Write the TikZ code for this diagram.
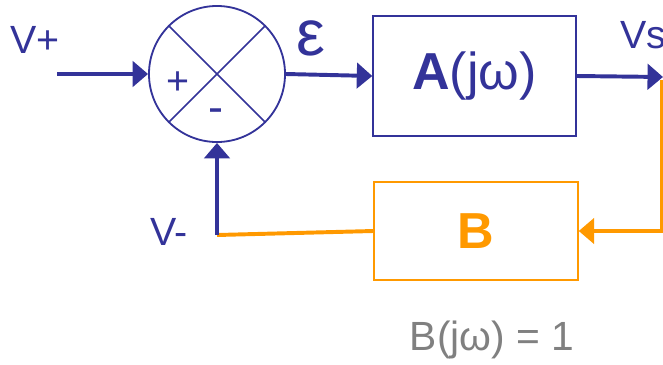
\documentclass[tikz,border=0pt]{standalone}
\usepackage{fontspec}
\setmainfont{Liberation Sans}
\definecolor{fbblue}{RGB}{51,51,153}
\definecolor{fborange}{RGB}{255,153,0}
\definecolor{fbgray}{RGB}{128,128,128}
\usetikzlibrary{arrows.meta}
\tikzset{
  blk/.style={draw=#1, line width=1pt, inner sep=0pt, align=center},
  sig/.style={fbblue, line width=2.8pt,
              -{Triangle[length=11pt, width=18pt]}},
  fb/.style={fborange, line width=2.8pt},
  fbarr/.style={fborange, line width=2.8pt,
              -{Triangle[length=11pt, width=18pt]}},
  lbl/.style={text=fbblue, font=\fontsize{28}{30}\selectfont, inner sep=0pt},
}

\begin{document}
\begin{tikzpicture}[x=0.025cm, y=-0.025cm]
  \useasboundingbox (0,0) rectangle (663,364);

  % ── FORWARD PATH ────────────────────────────────────────
  \node[circle, draw=fbblue, line width=1.3pt, minimum size=3.4cm,
        inner sep=0pt] (sum) at (217,74) {};
  \draw[fbblue, line width=1.1pt] (sum.north west) -- (sum.south east);
  \draw[fbblue, line width=1.1pt] (sum.north east) -- (sum.south west);
  \node[lbl, font=\fontsize{28}{30}\selectfont] (plus)  at (178,83)  {+};
  \node[lbl, font=\fontsize{32}{34}\selectfont] (minus) at (216,116) {-};

  \node[blk=fbblue, minimum width=5.075cm, minimum height=3.0cm,
        text=fbblue, font=\fontsize{37}{40}\selectfont] (A) at (474.5,76)
        {\textbf{A}(jω)};

  \coordinate (vin) at (57,74);
  \coordinate (vs)  at (663,77);
  \node[lbl] (vplus) at (35,40)  {V+};
  \node[lbl, font=\fontsize{46}{48}\selectfont] (eps) at (311,38) {ε};
  \node[lbl, anchor=west] (vout) at (620,35) {Vs};

  \draw[sig] (vin) -- (sum.west);
  \draw[sig] (sum.east) -- (A.west);
  \draw[sig] (A.east) -- (vs);

  % ── FEEDBACK PATH ───────────────────────────────────────
  \node[blk=fborange, minimum width=5.1cm, minimum height=2.45cm,
        text=fborange, font=\bfseries\fontsize{36}{38}\selectfont] (B) at (476,231)
        {B};
  \coordinate (tap)  at (662,80);
  \coordinate (bend) at (662,231);
  \coordinate (vm)   at (217,235);
  \node[lbl] (vminus) at (169,232) {V-};

  \draw[fbarr] (tap) -- (bend) -- (B.east);
  \draw[fb] (B.west) -- (vm);
  \draw[sig] (vm) -- (sum.south);

  \node[text=fbgray, font=\fontsize{29}{31}\selectfont, inner sep=0pt]
       (gain) at (492,340) {B(jω) = 1};
\end{tikzpicture}
\end{document}
